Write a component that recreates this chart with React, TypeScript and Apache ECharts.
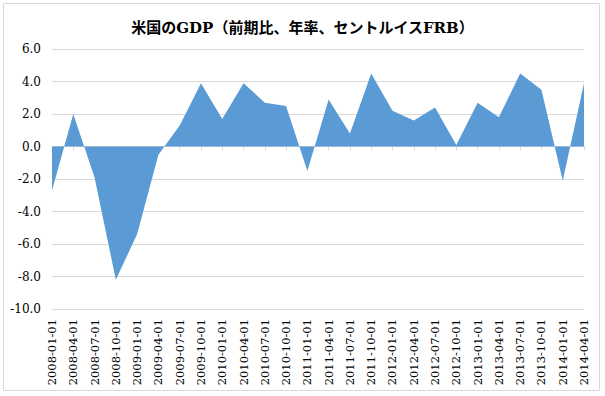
import React, { useEffect, useRef } from "react";
import * as echarts from "echarts";

const title = "米国のGDP（前期比、年率、セントルイスFRB）";
const categories = [
  "2008-01-01", "2008-04-01", "2008-07-01", "2008-10-01",
  "2009-01-01", "2009-04-01", "2009-07-01", "2009-10-01",
  "2010-01-01", "2010-04-01", "2010-07-01", "2010-10-01",
  "2011-01-01", "2011-04-01", "2011-07-01", "2011-10-01",
  "2012-01-01", "2012-04-01", "2012-07-01", "2012-10-01",
  "2013-01-01", "2013-04-01", "2013-07-01", "2013-10-01",
  "2014-01-01", "2014-04-01",
];
const gdp = [
  -2.7, 2.0, -1.9, -8.2,
  -5.4, -0.5, 1.3, 3.9,
  1.7, 3.9, 2.7, 2.5,
  -1.5, 2.9, 0.8, 4.5,
  2.2, 1.6, 2.4, 0.1,
  2.7, 1.8, 4.5, 3.5,
  -2.1, 3.9,
];
const yMin = -10;
const yMax = 6;
const yStep = 2;

export default function App() {
  const ref = useRef<HTMLDivElement>(null);
  useEffect(() => {
    if (!ref.current) return;
    const chart = echarts.init(ref.current, null, { renderer: "svg" });
    const serif = "'DejaVu Serif', 'Liberation Serif', serif";
    chart.setOption({
      animation: false,
      backgroundColor: "#ffffff",
      title: {
        text: title,
        left: "center",
        top: 15,
        textStyle: {
          fontFamily: "'DejaVu Serif', 'Noto Sans CJK JP', serif",
          fontSize: 15,
          fontWeight: "bold",
          color: "#000000",
        },
      },
      graphic: [
        {
          type: "rect",
          shape: { x: 3.5, y: 3.5, width: 596, height: 387 },
          style: { fill: "none", stroke: "#d9d9d9", lineWidth: 1 },
          silent: true,
        },
      ],
      grid: { left: 52, right: 21, top: 49, bottom: 87, containLabel: false },
      xAxis: [
        {
          type: "category",
          data: categories,
          boundaryGap: false,
          position: "bottom",
          axisLine: { show: false, onZero: false },
          axisTick: { show: false },
          splitLine: { show: false },
          axisLabel: {
            rotate: 90,
            interval: 0,
            margin: 10,
            fontFamily: serif,
            fontSize: 11.5,
            color: "#000000",
          },
        },
        {
          type: "category",
          data: categories,
          boundaryGap: false,
          position: "top",
          axisLine: { show: true, onZero: true, lineStyle: { color: "#d9d9d9", width: 1 } },
          axisTick: { show: true, inside: true, length: 4, interval: 0, lineStyle: { color: "#d9d9d9" } },
          axisLabel: { show: false },
          splitLine: { show: false },
        },
      ],
      yAxis: {
        type: "value",
        min: yMin,
        max: yMax,
        interval: yStep,
        axisLine: { show: false },
        axisTick: { show: false },
        splitLine: { show: true, lineStyle: { color: "#d9d9d9", width: 1 } },
        axisLabel: {
          margin: 11,
          fontFamily: serif,
          fontSize: 12,
          color: "#000000",
          formatter: (v: number) => v.toFixed(1),
        },
      },
      series: [
        {
          type: "line",
          data: gdp,
          xAxisIndex: 0,
          showSymbol: false,
          symbol: "none",
          lineStyle: { width: 0, color: "#5b9bd5" },
          itemStyle: { color: "#5b9bd5" },
          areaStyle: { color: "#5b9bd5", opacity: 1, origin: 0 },
          z: 1,
        },
      ],
    });
    return () => chart.dispose();
  }, []);
  return (
    <div
      ref={ref}
      style={{ position: "fixed", left: 0, top: 0, width: 605, height: 396 }}
    />
  );
}
